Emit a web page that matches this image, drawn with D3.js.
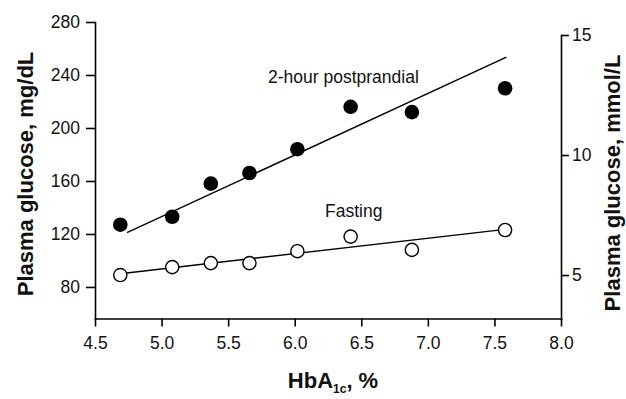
<!DOCTYPE html>
<meta charset="utf-8">
<body style="margin:0;background:#fff">
<style>
  text { font-family: Arial, "Liberation Sans", sans-serif; fill: #111; }
  .axis path, .axis line { stroke: #000; stroke-width: 1.6px; }
  .axis text { font-size: 17.5px; }
  .title { font-weight: bold; font-size: 22px; }
  .fit { fill: none; stroke: #000; stroke-width: 1.4px; }
</style>
<script src="https://d3js.org/d3.v7.min.js"></script>
<script>
  // HbA1c (%) of each group
  var hba1c = [4.69, 5.08, 5.37, 5.66, 6.02, 6.42, 6.88, 7.58];
  // 2-hour postprandial and fasting glucose, mg/dL
  var postprandial = [127, 133, 158, 166, 184, 216, 212, 230];
  var fasting = [89, 95, 98, 98, 107, 118, 108, 123];
  // regression line end points [HbA1c, mg/dL]
  var postFit = [[4.74, 121], [7.59, 253.5]];
  var fastFit = [[4.69, 90], [7.58, 123.5]];

  var xTicks = [4.5, 5.0, 5.5, 6.0, 6.5, 7.0, 7.5, 8.0];
  var yTicks = [80, 120, 160, 200, 240, 280];
  var y2Ticks = [5, 10, 15];

  var width = 626, height = 399;

  var svg = d3.select("body").append("svg")
    .attr("width", width)
    .attr("height", height);

  var x = d3.scaleLinear().domain([4.5, 8.0]).range([95, 561]);
  var y = d3.scaleLinear().domain([56.2, 280]).range([318.5, 22]);
  var y2 = d3.scaleLinear().domain([3.19, 15]).range([318.5, 35]);

  svg.append("g")
    .attr("class", "axis")
    .attr("transform", "translate(0," + 318.5 + ")")
    .call(d3.axisBottom(x).tickValues(xTicks).tickFormat(d3.format(".1f"))
      .tickSize(8).tickPadding(10).tickSizeOuter(0));

  svg.append("g")
    .attr("class", "axis")
    .attr("transform", "translate(95,0)")
    .call(d3.axisLeft(y).tickValues(yTicks).tickSize(9).tickPadding(6).tickSizeOuter(0));

  svg.append("g")
    .attr("class", "axis")
    .attr("transform", "translate(561,0)")
    .call(d3.axisRight(y2).tickValues(y2Ticks).tickSize(8).tickPadding(3).tickSizeOuter(0));

  svg.selectAll(".axis .domain").attr("stroke-linecap", "square");

  var line = d3.line()
    .x(function(d) { return x(d[0]); })
    .y(function(d) { return y(d[1]); });

  svg.append("path").attr("class", "fit").attr("d", line(postFit));
  svg.append("path").attr("class", "fit").attr("d", line(fastFit));

  svg.append("g").selectAll("circle")
    .data(hba1c)
    .enter().append("circle")
    .attr("cx", function(d) { return x(d); })
    .attr("cy", function(d, i) { return y(postprandial[i]); })
    .attr("r", 7.3)
    .attr("fill", "#000");

  svg.append("g").selectAll("circle")
    .data(hba1c)
    .enter().append("circle")
    .attr("cx", function(d) { return x(d); })
    .attr("cy", function(d, i) { return y(fasting[i]); })
    .attr("r", 6.6)
    .attr("fill", "#fff")
    .attr("stroke", "#000")
    .attr("stroke-width", 1.4);

  svg.append("text")
    .attr("x", 268).attr("y", 83)
    .style("font-size", "17.5px")
    .text("2-hour postprandial");

  svg.append("text")
    .attr("x", 325).attr("y", 217)
    .style("font-size", "17.5px")
    .text("Fasting");

  // axis titles
  svg.append("text")
    .attr("class", "title")
    .attr("text-anchor", "middle")
    .attr("transform", "translate(33,174) rotate(-90)")
    .text("Plasma glucose, mg/dL");

  svg.append("text")
    .attr("class", "title")
    .attr("text-anchor", "middle")
    .attr("transform", "translate(620,183) rotate(-90)")
    .text("Plasma glucose, mmol/L");

  var xt = svg.append("text")
    .attr("class", "title")
    .attr("text-anchor", "middle")
    .attr("x", 333).attr("y", 388);
  xt.append("tspan").text("HbA");
  xt.append("tspan").attr("dy", 5).style("font-size", "12px").text("1c");
  xt.append("tspan").attr("dy", -5).text(", %");
</script>
</body>
